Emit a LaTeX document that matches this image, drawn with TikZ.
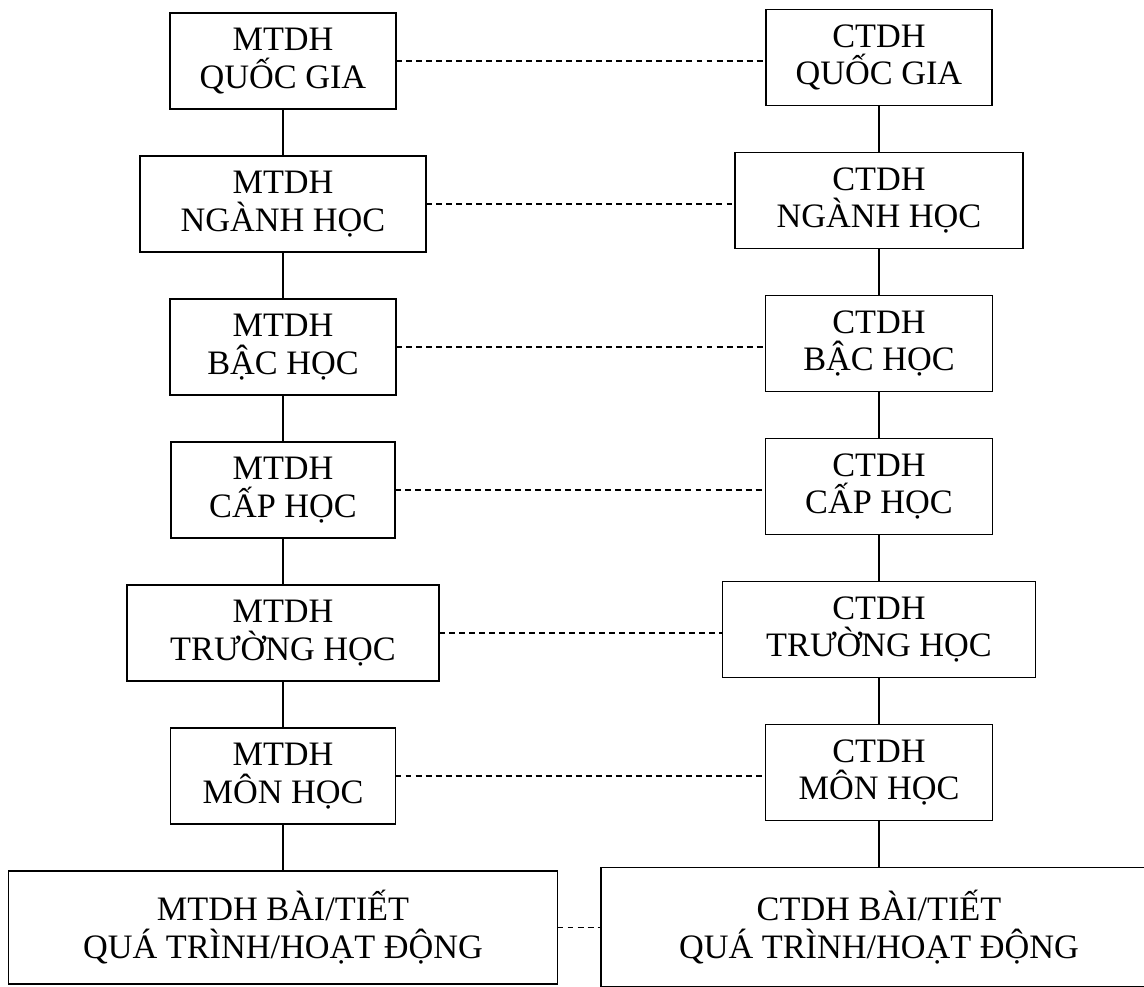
\documentclass[tikz,border=0pt]{standalone}
\usepackage{fontspec}
\setmainfont{Liberation Serif}
\usetikzlibrary{positioning}

\begin{document}
\begin{tikzpicture}[node distance=.94cm,every node/.style={font=\fontsize{19.5}{21.5}\selectfont},box/.style={draw,line width=.9pt,outer sep=0pt,align=center,minimum height=1.92cm},link/.style={line width=.9pt},tie/.style={line width=.9pt,dash pattern=on 3.4pt off 2.3pt}]
        \useasboundingbox (0,0) rectangle (22.88,-19.74);
        % MTDH column
        \node[box,minimum width=4.52cm] (m1) at (5.66,-1.22) {MTDH\\QUỐC GIA};
        \node[box,minimum width=5.72cm,below=of m1] (m2) {MTDH\\NGÀNH HỌC};
        \node[box,minimum width=4.52cm,below=of m2] (m3) {MTDH\\BẬC HỌC};
        \node[box,minimum width=4.48cm,below=of m3] (m4) {MTDH\\CẤP HỌC};
        \node[box,minimum width=6.24cm,below=of m4] (m5) {MTDH\\TRƯỜNG HỌC};
        \node[box,minimum width=4.5cm,below=of m5] (m6) {MTDH\\MÔN HỌC};
        \node[box,minimum width=10.98cm,minimum height=2.26cm,below=of m6] (m7) {MTDH BÀI/TIẾT\\QUÁ TRÌNH/HOẠT ĐỘNG};
        % CTDH column
        \node[box,minimum width=4.52cm] (c1) at (17.58,-1.15) {CTDH\\QUỐC GIA};
        \node[box,minimum width=5.76cm,below=of c1] (c2) {CTDH\\NGÀNH HỌC};
        \node[box,minimum width=4.54cm,below=of c2] (c3) {CTDH\\BẬC HỌC};
        \node[box,minimum width=4.54cm,below=of c3] (c4) {CTDH\\CẤP HỌC};
        \node[box,minimum width=6.26cm,below=of c4] (c5) {CTDH\\TRƯỜNG HỌC};
        \node[box,minimum width=4.54cm,below=of c5] (c6) {CTDH\\MÔN HỌC};
        \node[box,minimum width=11.12cm,minimum height=2.38cm,below=of c6] (c7) {CTDH BÀI/TIẾT\\QUÁ TRÌNH/HOẠT ĐỘNG};
        \draw[link] (m1)--(m2);
        \draw[link] (m2)--(m3);
        \draw[link] (m3)--(m4);
        \draw[link] (m4)--(m5);
        \draw[link] (m5)--(m6);
        \draw[link] (m6)--(m7);
        \draw[link] (c1)--(c2);
        \draw[link] (c2)--(c3);
        \draw[link] (c3)--(c4);
        \draw[link] (c4)--(c5);
        \draw[link] (c5)--(c6);
        \draw[link] (c6)--(c7);
        \draw[tie] (m1.east)--(m1.east -| c1.west);
        \draw[tie] (m2.east)--(m2.east -| c2.west);
        \draw[tie] (m3.east)--(m3.east -| c3.west);
        \draw[tie] (m4.east)--(m4.east -| c4.west);
        \draw[tie] (m5.east)--(m5.east -| c5.west);
        \draw[tie] (m6.east)--(m6.east -| c6.west);
        \draw[tie] (m7.east)--(m7.east -| c7.west);
      \end{tikzpicture}
\end{document}
